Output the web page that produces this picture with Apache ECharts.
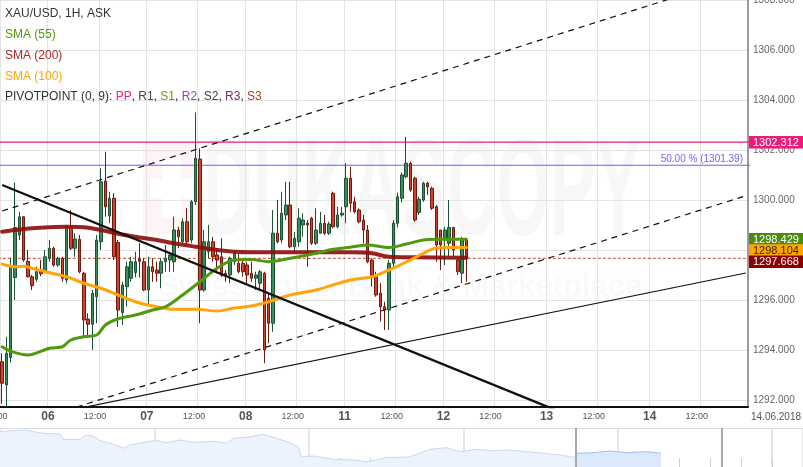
<!DOCTYPE html>
<html><head><meta charset="utf-8">
<script src="https://cdn.jsdelivr.net/npm/echarts@6.0.0/dist/echarts.min.js"></script>
<style>html,body{margin:0;padding:0;background:#fff}#c{width:803px;height:467px}</style>
</head><body><div id="c"></div>
<script>
// ---------- time slots (x categories) ----------
const tradedHours = [0,1,2,3,4,5,6,7,8,9,10,11,12,13,14,15,16,17,18,19,20,22,23];
const clockHours = [0,1,2,3,4,5,6,7,8,9,10,11,12,13,14,15,16,17,18,19,20,21,22,23];
const sessions = [
  ['05', tradedHours, 12, 23],
  ['06', tradedHours, 0, 23],
  ['07', tradedHours, 0, 23],
  ['08', tradedHours, 0, 23],
  ['11', tradedHours, 0, 23],
  ['12', tradedHours, 0, 5],
  ['12', clockHours, 6, 23],
  ['13', clockHours, 0, 23],
  ['14', clockHours, 0, 22]
];
const lastDateLabel = '14.06.2018';

// ---------- candles [open, close, low, high] ----------
const candles = [
[1293.53,1292.67,1291.85,1293.87],[1292.60,1293.87,1291.75,1294.53],[1293.70,1297.30,1293.50,1297.70],[1296.90,1298.90,1296.00,1300.70],
[1298.60,1299.33,1298.40,1299.53],[1299.33,1297.60,1297.53,1299.35],[1297.55,1296.93,1296.90,1298.00],[1296.93,1296.57,1296.40,1297.00],
[1296.83,1297.13,1296.73,1297.33],[1297.20,1297.05,1296.95,1297.60],[1297.13,1297.73,1297.07,1298.00],[1297.67,1298.07,1297.53,1298.40],
[1298.07,1297.40,1297.33,1298.13],[1297.40,1297.67,1297.33,1297.73],[1297.67,1296.87,1296.73,1297.73],[1296.80,1298.93,1296.67,1299.00],
[1298.93,1298.07,1298.00,1299.60],[1298.07,1298.44,1297.73,1298.67],[1298.43,1297.13,1297.07,1298.60],[1297.07,1295.20,1294.53,1297.13],
[1295.24,1295.03,1294.53,1295.47],[1295.03,1296.27,1294.00,1296.40],[1296.13,1298.40,1295.07,1298.60],[1298.33,1300.73,1298.00,1301.27],
[1300.76,1299.73,1299.33,1301.93],[1299.36,1300.07,1299.07,1300.33],[1300.07,1297.73,1297.60,1300.27],[1298.30,1295.60,1294.93,1298.40],
[1295.50,1296.60,1295.00,1296.73],[1296.53,1297.33,1295.73,1297.53],[1296.87,1297.53,1296.73,1297.73],[1297.10,1297.53,1296.90,1297.93],
[1297.65,1297.55,1296.90,1298.27],[1297.53,1296.40,1296.35,1297.67],[1296.40,1297.33,1295.80,1297.73],[1297.33,1297.13,1296.73,1297.67],
[1297.20,1297.07,1296.73,1297.53],[1297.07,1297.53,1296.47,1297.67],[1297.53,1297.67,1297.13,1298.20],[1297.60,1297.80,1297.13,1297.93],
[1297.53,1298.80,1297.13,1299.33],[1298.80,1298.53,1298.07,1298.93],[1298.33,1299.13,1298.27,1299.27],[1299.13,1298.33,1298.20,1299.67],
[1298.40,1299.93,1298.27,1300.00],[1299.93,1301.67,1299.80,1303.50],[1301.64,1296.40,1295.07,1302.07],[1296.40,1298.33,1296.33,1298.80],
[1297.93,1298.33,1297.67,1299.00],[1298.33,1297.73,1297.53,1298.53],[1297.80,1297.60,1297.07,1298.07],[1297.73,1297.00,1296.93,1298.47],
[1297.07,1297.00,1296.73,1297.20],[1297.00,1297.67,1296.67,1297.73],[1297.53,1297.87,1297.40,1298.00],[1297.47,1297.13,1297.07,1297.87],
[1297.47,1297.13,1296.93,1297.60],[1297.40,1297.00,1296.67,1297.53],[1297.07,1296.87,1296.73,1297.53],[1296.87,1297.00,1296.40,1297.13],
[1296.67,1297.13,1296.40,1297.20],[1297.07,1294.00,1293.47,1297.13],[1296.07,1295.07,1294.27,1296.27],[1295.07,1298.67,1294.73,1299.60],
[1298.67,1298.33,1298.27,1300.00],[1298.40,1299.47,1298.27,1300.33],[1299.40,1299.80,1299.20,1300.73],[1299.80,1298.13,1298.07,1300.73],
[1298.13,1298.47,1297.87,1298.73],[1298.33,1299.27,1298.13,1299.67],[1299.00,1299.20,1298.53,1299.47],[1299.07,1299.00,1297.33,1299.20],
[1299.27,1298.27,1298.20,1299.33],[1298.27,1298.80,1298.20,1299.67],[1298.67,1299.07,1298.67,1299.53],[1299.07,1298.67,1298.60,1299.40],
[1298.67,1299.04,1298.60,1299.13],[1300.27,1298.93,1298.87,1300.33],[1298.93,1299.40,1298.87,1299.73],[1299.40,1299.47,1299.33,1299.73],
[1299.73,1300.87,1299.07,1301.47],[1300.87,1299.87,1299.53,1301.33],[1299.93,1299.53,1299.47,1300.13],[1299.60,1299.13,1299.07,1299.67],
[1299.20,1298.80,1298.27,1299.40],[1298.80,1297.53,1297.47,1299.00],[1297.60,1297.00,1296.53,1297.67],[1296.93,1296.20,1296.13,1297.13],
[1296.27,1295.73,1295.13,1296.67],[1295.73,1295.60,1294.80,1295.93],[1295.60,1297.47,1294.80,1297.60],[1297.47,1299.07,1297.30,1299.20],
[1299.07,1300.13,1298.90,1300.30],[1300.07,1301.00,1299.90,1301.10],[1300.93,1301.47,1300.87,1302.53],[1301.47,1300.40,1300.33,1301.53],
[1300.87,1299.20,1299.13,1300.93],[1299.50,1300.03,1299.40,1300.13],[1300.00,1300.67,1299.93,1300.73],[1300.67,1300.53,1300.20,1300.73],
[1300.47,1299.67,1299.60,1300.53],[1299.73,1298.20,1297.53,1299.80],[1298.80,1298.20,1297.20,1298.80],[1298.40,1298.80,1297.40,1298.93],
[1298.27,1298.90,1297.73,1300.00],[1298.90,1298.00,1297.73,1298.93],[1297.60,1297.13,1297.00,1297.67],[1297.07,1298.40,1296.67,1298.53],
[1298.40,1297.668,1296.73,1298.45]
];

// ---------- moving averages [slot, value] ----------
const sma55 = [[0,1294.13],[2,1293.95],[6,1293.80],[11,1294.07],[14,1294.13],[16,1294.40],[19,1294.53],[22,1294.60],[24,1295.00],[27,1295.25],[31,1295.40],[35,1295.60],[38,1295.73],[42,1296.20],[46,1296.73],[50,1297.27],[54,1297.60],[58,1297.62],[62,1297.53],[65,1297.60],[73,1297.87],[77,1298.03],[81,1298.11],[85,1298.20],[90,1298.10],[94,1298.24],[98,1298.40],[101,1298.43],[108,1298.43]];
const sma200 = [[0,1298.73],[3,1298.80],[7,1298.87],[11,1298.91],[15,1298.93],[19,1298.91],[23,1298.80],[27,1298.65],[31,1298.53],[36,1298.40],[40,1298.27],[45,1298.13],[50,1298.00],[54,1297.93],[58,1297.91],[69,1297.91],[81,1297.91],[86,1297.87],[90,1297.73],[96,1297.71],[108,1297.69]];
const sma100 = [[0,1297.44],[3,1297.33],[5,1297.35],[7,1297.27],[10,1297.13],[15,1296.93],[19,1296.67],[23,1296.47],[27,1296.20],[31,1295.93],[36,1295.73],[40,1295.63],[45,1295.63],[50,1295.56],[54,1295.68],[58,1295.76],[62,1295.93],[67,1296.20],[73,1296.40],[81,1296.80],[86,1296.93],[90,1297.20],[95,1297.60],[98,1297.87],[101,1298.08],[104,1298.10],[108,1298.10]];

// ---------- drawn trend lines [slot, price] ----------
const trendDown = [[0,1300.60],[135,1291.16]];
const trendUp = [[10,1291.39],[173,1297.08]];
const channelTop = [[0,1299.56],[173,1309.01]];
const channelBottom = [[10,1291.32],[173,1300.17]];

// ---------- horizontal levels ----------
const pivotLevel = 1302.312;
const fibLevel = 1301.39;
const fibText = '50.00 % (1301.39)';
const lastPrice = 1297.668;
const tagValues = [1302.312, 1298.429, 1298.104, 1297.668];

// ---------- navigator history [position, level] ----------
const navHistory = [[0,35.3],[1.6,36.3],[4.3,37],[5.4,35.3],[7.0,33.7],[9.7,33],[10.25,27.7],[13.0,27.7],[13.8,32],[15.1,31],[16.2,26.3],[18.3,23],[20.0,18.7],[21.0,22],[22.7,23.7],[23.7,25.3],[25.4,26.3],[27.0,24.3],[29.1,27],[31.3,24.7],[34.5,25.7],[36.7,23.7],[37.8,28.7],[39.9,29.7],[42.6,32.7],[44.8,28.7],[46.9,24.3],[48.3,20.3],[48.8,10.3],[50.7,11],[54.0,7.7],[57.2,7],[59.4,5.3],[61.0,7],[62.6,9.7],[64.8,9.7],[66.4,10.3],[69.6,17.7],[72.3,19.3],[74.5,15.3],[77.2,17.7],[79.3,16.3],[82.6,17],[85.3,15.3],[88.0,13.7],[90.7,12],[92.8,9.7],[93.4,13.7]];
const navWindowData = [[93.4,13.7],[96.0,14.3],[98.8,16],[101.5,14.3],[104.7,15.3],[107.0,13.7]];
const navWindowEdges = [93.2, 116.9];

// ---------- build ----------
const categories = [];
sessions.forEach(([d, hrs, a, b]) => hrs.forEach(h => {
  if (h >= a && h <= b) categories.push(d + ' ' + String(h).padStart(2, '0') + ':00');
}));
const isMajor = v => { const h = v.slice(3, 5); return h === '00' || h === '12'; };
const lastSlot = categories.length;

const chart = echarts.init(document.getElementById('c'), null, {renderer: 'canvas', devicePixelRatio: 1});
const FONT = 'Liberation Sans, Arial, sans-serif';

function trend(data, width, type, color) {
  return {type: 'line', data, xAxisIndex: 0, yAxisIndex: 0, symbol: 'none', silent: true, z: 6,
    lineStyle: {color: color || '#111', width, type}, clip: true};
}
function sma(data, color, width, opacity) {
  return {type: 'line', data, smooth: 0.35, symbol: 'none', silent: true, z: 4,
    lineStyle: {color, width, opacity: opacity || 1, cap: 'round', join: 'round'}};
}
function level(value, color, width, type, label) {
  const s = trend([[-1, value], [lastSlot, value]], width, type, color);
  s.z = 2;
  if (label) {
    s.endLabel = label;
  }
  return s;
}

chart.setOption({
  animation: false,
  backgroundColor: '#fff',
  grid: [
    {left: 0, right: 55, top: 0, bottom: 60, containLabel: false, outerBoundsMode: 'none'},
    {left: 0, right: 0, top: 428, bottom: 0, containLabel: false, outerBoundsMode: 'none'}
  ],
  xAxis: [
    {type: 'category', data: categories, gridIndex: 0, boundaryGap: true,
      axisLine: {show: true, lineStyle: {color: '#111', width: 2}},
      axisTick: {show: false},
      splitLine: {show: true, interval: (i, v) => isMajor(v), lineStyle: {color: '#e4e4e4', width: 1}},
      axisLabel: {interval: (i, v) => isMajor(v), margin: 3, hideOverlap: false,
        formatter: v => v.slice(3, 5) === '00' ? '{d|' + v.slice(0, 2) + '}' : '{t|12:00}',
        rich: {
          d: {fontFamily: FONT, fontSize: 12, fontWeight: 'bold', color: '#555', lineHeight: 14, padding: [0, 3, 0, 0]},
          t: {fontFamily: FONT, fontSize: 9, color: '#555', lineHeight: 14, padding: [0, 12, 0, 0]}
        }}},
    {type: 'value', gridIndex: 1, min: 0, max: 130, interval: 5,
      axisLine: {show: false}, axisLabel: {show: false}, splitLine: {show: false},
      axisTick: {show: true, inside: true, length: 9, lineStyle: {color: '#d0d0d0'}}},
    {type: 'value', gridIndex: 1, min: 0, max: 130, interval: 25, position: 'top',
      axisLine: {show: true, lineStyle: {color: '#dcdcdc', width: 1}}, axisLabel: {show: false}, axisTick: {show: false},
      splitLine: {show: true, lineStyle: {color: '#dedede', width: 1.5}}}
  ],
  yAxis: [
    {type: 'value', gridIndex: 0, position: 'right', min: 1291.72, max: 1308, splitNumber: 8, scale: true,
      axisLine: {show: true, lineStyle: {color: '#9a9a9a', width: 2}},
      axisTick: {show: false},
      splitLine: {show: true, lineStyle: {color: '#e4e4e4', width: 1}},
      axisLabel: {margin: 5, color: '#666', fontFamily: FONT, fontSize: 10, hideOverlap: false,
        formatter: v => (Math.abs(v / 2 - Math.round(v / 2)) < 1e-6) ? v.toFixed(3) : ''}},
    {type: 'value', gridIndex: 1, min: 0, max: 39, show: false}
  ],
  series: [
    level(pivotLevel, '#ec1c78', 1.3, 'solid'),
    level(fibLevel, '#6e62f6', 1.2, 'solid'),
    level(lastPrice, '#c8442e', 1, [3, 2]),
    {type: 'candlestick', data: candles, barWidth: 3, z: 3,
      itemStyle: {color: '#3b8d5c', color0: '#d1412b', borderColor: '#1c5233', borderColor0: '#6e1a0e', borderWidth: 1}},
    sma(sma200, '#8e0b0b', 4, 0.9),
    sma(sma100, '#ffa40a', 3),
    sma(sma55, '#4f9a0c', 3),
    trend(trendDown, 2.4, 'solid'),
    trend(trendUp, 1.2, 'solid'),
    trend(channelTop, 1.2, [6, 5]),
    trend(channelBottom, 1.2, [6, 5]),
    {type: 'line', xAxisIndex: 1, yAxisIndex: 1, data: navHistory, symbol: 'none', silent: true,
      lineStyle: {color: '#c6d8f3', width: 1}, areaStyle: {color: '#edf3fd', opacity: 1}},
    {type: 'line', xAxisIndex: 1, yAxisIndex: 1, data: navWindowData, symbol: 'none', silent: true,
      lineStyle: {color: '#a3bfec', width: 1}, areaStyle: {color: '#dce8fb', opacity: 1},
      markLine: {silent: true, symbol: ['none', 'none'], label: {show: false},
        lineStyle: {color: '#a8a8a8', width: 2, type: 'solid'},
        data: navWindowEdges.map(x => ({xAxis: x}))}}
  ]
});

// ---------- text overlays ----------
const legendRows = [
  {text: 'XAU/USD, 1H, ASK', color: '#333'},
  {text: 'SMA (55)', color: '#4f9a0c'},
  {text: 'SMA (200)', color: '#a52a2a'},
  {text: 'SMA (100)', color: '#ffa500'}
];
const pivotParts = [['PIVOTPOINT (0, 9): ', '#333'], ['PP', '#ff1a85'], [', ', '#333'], ['R1', '#444'], [', ', '#333'],
  ['S1', '#7f8f1f'], [', ', '#333'], ['R2', '#9b3fc0'], [', ', '#333'], ['S2', '#444'], [', ', '#333'],
  ['R3', '#7a2a5a'], [', ', '#333'], ['S3', '#a5402a']];

const g = [];
legendRows.forEach((r, i) => g.push({type: 'text', x: 5, y: 14 + i * 20.8, z: 20,
  style: {text: r.text, fill: r.color, font: '12px ' + FONT, verticalAlign: 'middle'}}));
const rich = {};
pivotParts.forEach((p, i) => { rich['p' + i] = {fill: p[1], color: p[1], font: '12px ' + FONT}; });
g.push({type: 'text', x: 5, y: 97, z: 20,
  style: {text: pivotParts.map((p, i) => '{p' + i + '|' + p[0] + '}').join(''), rich, font: '12px ' + FONT, verticalAlign: 'middle'}});

// fib level caption, placed on the level through the axis scale
const fibY = chart.convertToPixel({yAxisIndex: 0}, fibLevel);
g.push({type: 'text', x: 743, y: fibY - 1, z: 20,
  style: {text: fibText, fill: '#7466f4', font: '10px ' + FONT, align: 'right', verticalAlign: 'bottom'}});

// watermark
g.push({type: 'rect', z: -5, silent: true, shape: {x: 143, y: 142, width: 56, height: 92}, style: {fill: 'rgba(235,40,60,0.05)'}});
g.push({type: 'rect', z: -4, silent: true, shape: {x: 162, y: 160, width: 19, height: 58}, style: {fill: '#fff'}});
g.push({type: 'rect', z: -4, silent: true, shape: {x: 150, y: 179, width: 43, height: 19}, style: {fill: '#fff'}});
g.push({type: 'text', z: -4, silent: true, x: 203, y: 196, scaleX: 0.49,
  style: {text: 'DUKASCOPY', fill: 'rgba(0,0,0,0.03)', font: 'bold 140px ' + FONT, verticalAlign: 'middle'}});
g.push({type: 'text', z: -4, silent: true, x: 158, y: 287,
  style: {text: 'Swiss Forex Bank & Marketplace', fill: 'rgba(0,0,0,0.025)', font: 'bold 31px ' + FONT, verticalAlign: 'middle'}});

// date label at axis end
g.push({type: 'text', x: 751, y: 417, z: 20, style: {text: lastDateLabel, fill: '#555', font: '10px ' + FONT, verticalAlign: 'middle'}});

// price tags on the right axis
const tagStyles = [
  {bg: '#ee1a78', fg: '#fff'}, {bg: '#4d8b10', fg: '#fff'}, {bg: '#ffa500', fg: '#3a2a00'}, {bg: '#8b0000', fg: '#fff'}
];
let prev = -1e9;
tagValues.forEach((v, i) => {
  let cy = chart.convertToPixel({yAxisIndex: 0}, v);
  if (i > 1) cy = Math.max(cy, prev + 11.2);
  prev = cy;
  g.push({type: 'rect', z: 30 + 2 * i, shape: {x: 749, y: cy - 6.2, width: 54, height: 12.4}, style: {fill: tagStyles[i].bg}});
  g.push({type: 'text', z: 31 + 2 * i, x: 753, y: cy + 0.5,
    style: {text: v.toFixed(3), fill: tagStyles[i].fg, font: '11px ' + FONT, verticalAlign: 'middle'}});
});
chart.setOption({graphic: g});
</script>
</body></html>
